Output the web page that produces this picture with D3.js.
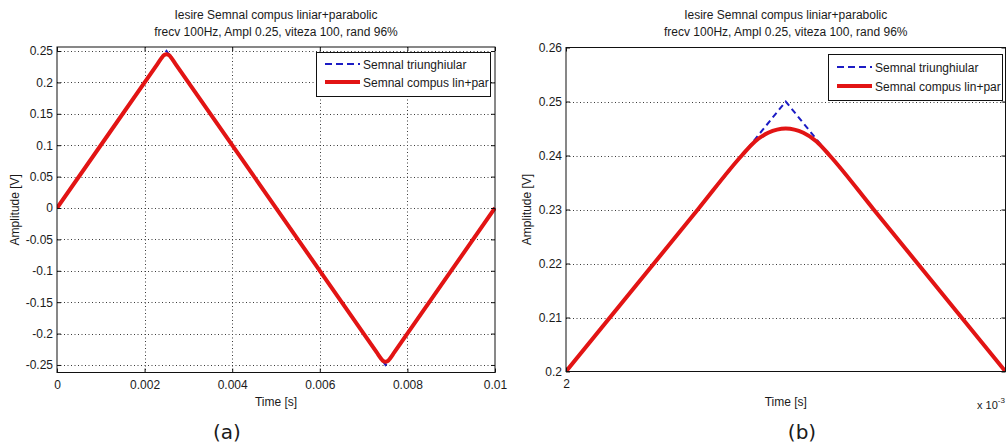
<!DOCTYPE html>
<html><head><meta charset="utf-8">
<script src="https://cdn.jsdelivr.net/npm/d3@7"></script>
<style>
html,body{margin:0;padding:0;background:#fff;}
svg{display:block;}
</style></head><body>
<svg id="fig" width="1006" height="446"></svg>
<script>
// Titles and labels
const titleLines = ["Iesire Semnal compus liniar+parabolic", "frecv 100Hz, Ampl 0.25, viteza 100, rand 96%"];
const legendLabels = ["Semnal triunghiular", "Semnal compus lin+par"];
const xLabel = "Time [s]";
const yLabel = "Amplitude [V]";
const panelTags = ["(a)", "(b)"];

// Triangular reference signal (vertices)
const timeTri = [0, 0.0025, 0.0075, 0.01];
const ampTri = [0, 0.25, -0.25, 0];

// Composite linear + parabolic signal (rounded peaks)
const timeComp = [0, 0.0023, 0.0024, 0.00243, 0.00246, 0.0025, 0.00254, 0.00257, 0.0026, 0.0027,
                  0.0073, 0.0074, 0.00743, 0.00746, 0.0075, 0.00754, 0.00757, 0.0076, 0.0077, 0.01];
const ampComp = [0, 0.23, 0.24, 0.2426, 0.2442, 0.245, 0.2442, 0.2426, 0.24, 0.23,
                 -0.23, -0.24, -0.2426, -0.2442, -0.245, -0.2442, -0.2426, -0.24, -0.23, 0];

// Ticks
const xTicksA = [0, 0.002, 0.004, 0.006, 0.008, 0.01];
const xTickLabelsA = ["0", "0.002", "0.004", "0.006", "0.008", "0.01"];
const yTicksA = [-0.25, -0.2, -0.15, -0.1, -0.05, 0, 0.05, 0.1, 0.15, 0.2, 0.25];
const yTickLabelsA = ["-0.25", "-0.2", "-0.15", "-0.1", "-0.05", "0", "0.05", "0.1", "0.15", "0.2", "0.25"];
const xTicksB = [0.002];
const xTickLabelsB = ["2"];
const yTicksB = [0.2, 0.21, 0.22, 0.23, 0.24, 0.25, 0.26];
const yTickLabelsB = ["0.2", "0.21", "0.22", "0.23", "0.24", "0.25", "0.26"];

const FONT = "'Liberation Sans',Arial,Helvetica,sans-serif";
const TAG_FONT = "'DejaVu Sans',Verdana,sans-serif";
const INK = "#1a1a1a";

const svg = d3.select("#fig");
svg.append("rect").attr("width", 1006).attr("height", 446).attr("fill", "#fff");

const panels = [
  { id: "a", left: 57, right: 495, top: 47, bottom: 372.5,
    xDomain: [0, 0.01], yDomain: [-0.262, 0.2564],
    xTicks: xTicksA, xTickLabels: xTickLabelsA, yTicks: yTicksA, yTickLabels: yTickLabelsA,
    legend: { right: 490, top: 52, height: 44, rows: [64, 82] },
    yLabelX: 15, tagX: 227 },
  { id: "b", left: 566, right: 1005.5, top: 47.5, bottom: 371.5,
    xDomain: [0.002, 0.003], yDomain: [0.2, 0.26],
    xTicks: xTicksB, xTickLabels: xTickLabelsB, yTicks: yTicksB, yTickLabels: yTickLabelsB,
    legend: { right: 1002, top: 54, height: 46, rows: [67, 86] },
    yLabelX: 527, tagX: 802, exponent: true }
];

const RED = "#e21414", BLUE = "#1c1cc4";

function label(sel, size, family) {
  return sel.style("font-family", family || FONT).style("font-size", size + "px").style("fill", INK);
}

panels.forEach((p, pi) => {
  const x = d3.scaleLinear().domain(p.xDomain).range([p.left, p.right]);
  const y = d3.scaleLinear().domain(p.yDomain).range([p.bottom, p.top]);
  const w = p.right - p.left, h = p.bottom - p.top;
  const g = svg.append("g");

  // dotted grid
  const grid = g.append("g").attr("stroke", "#3a3a3a").attr("stroke-width", 1).attr("stroke-dasharray", "1,2.5");
  p.yTicks.forEach(v => {
    const yy = Math.round(y(v)) + 0.5;
    if (yy > p.top + 1 && yy < p.bottom - 1)
      grid.append("line").attr("x1", p.left).attr("x2", p.right).attr("y1", yy).attr("y2", yy);
  });
  p.xTicks.forEach(v => {
    const xx = Math.round(x(v)) + 0.5;
    if (xx > p.left + 1 && xx < p.right - 1)
      grid.append("line").attr("x1", xx).attr("x2", xx).attr("y1", p.top).attr("y2", p.bottom);
  });

  // signals, clipped to the axes box
  const clipId = "clip-" + p.id;
  svg.append("clipPath").attr("id", clipId).append("rect")
    .attr("x", p.left).attr("y", p.top - 3).attr("width", w + 1).attr("height", h + 3);
  const plot = g.append("g").attr("clip-path", `url(#${clipId})`);

  const triLine = d3.line().x((d, i) => x(timeTri[i])).y((d, i) => y(ampTri[i]));
  const compLine = d3.line().x((d, i) => x(timeComp[i])).y((d, i) => y(ampComp[i])).curve(d3.curveMonotoneX);

  plot.append("path").attr("d", triLine(ampTri)).attr("fill", "none")
    .attr("stroke", BLUE).attr("stroke-width", 2).attr("stroke-dasharray", "6,4");
  plot.append("path").attr("d", compLine(ampComp)).attr("fill", "none")
    .attr("stroke", RED).attr("stroke-width", 4).attr("stroke-linejoin", "round");

  // axes with inward ticks
  const fmtX = (d, i) => p.xTickLabels[i];
  const fmtY = (d, i) => p.yTickLabels[i];
  const axX = g.append("g").attr("transform", `translate(0,${p.bottom})`)
    .call(d3.axisBottom(x).tickValues(p.xTicks).tickFormat(fmtX).tickSize(-4).tickPadding(8));
  const axXt = g.append("g").attr("transform", `translate(0,${p.top})`)
    .call(d3.axisTop(x).tickValues(p.xTicks).tickFormat("").tickSize(-4));
  const axY = g.append("g").attr("transform", `translate(${p.left},0)`)
    .call(d3.axisLeft(y).tickValues(p.yTicks).tickFormat(fmtY).tickSize(-4).tickPadding(4));
  const axYr = g.append("g").attr("transform", `translate(${p.right},0)`)
    .call(d3.axisRight(y).tickValues(p.yTicks).tickFormat("").tickSize(-4));
  [axX, axXt, axY, axYr].forEach(a => {
    a.select(".domain").remove();
    a.selectAll(".tick line").attr("stroke", "#111");
    label(a.selectAll("text"), 12);
  });

  // axes box
  g.append("rect").attr("x", p.left).attr("y", p.top).attr("width", w).attr("height", h)
    .attr("fill", "none").attr("stroke", "#111").attr("stroke-width", 1);

  // title
  const cx = (p.left + p.right) / 2;
  titleLines.forEach((t, i) => {
    label(g.append("text").attr("x", cx).attr("y", 19 + i * 16.5).attr("text-anchor", "middle"), 12).text(t);
  });

  // axis labels
  label(g.append("text").attr("x", cx).attr("y", 406).attr("text-anchor", "middle"), 12).text(xLabel);
  label(g.append("text").attr("transform", `translate(${p.yLabelX + 4},${(p.top + p.bottom) / 2}) rotate(-90)`)
    .attr("text-anchor", "middle"), 12).text(yLabel);

  if (p.exponent) {
    const ex = label(g.append("text").attr("x", 977).attr("y", 409), 11);
    ex.append("tspan").text("x 10");
    ex.append("tspan").attr("dy", -6).style("font-size", "8px").text("-3");
  }

  // panel tag
  label(svg.append("text").attr("x", p.tagX).attr("y", 439).attr("text-anchor", "middle"), 20, TAG_FONT)
    .text(panelTags[pi]);

  // legend
  const L = p.legend;
  const lx = L.right - 174;
  const lg = g.append("g");
  lg.append("rect").attr("x", lx + 0.5).attr("y", L.top + 0.5).attr("width", L.right - lx).attr("height", L.height)
    .attr("fill", "#fff").attr("stroke", "#111").attr("stroke-width", 1);
  const styles = [
    { stroke: BLUE, width: 2, dash: "7,4" },
    { stroke: RED, width: 4, dash: null }
  ];
  legendLabels.forEach((lab, i) => {
    const ry = L.rows[i];
    lg.append("line").attr("x1", lx + 9).attr("x2", lx + 44).attr("y1", ry).attr("y2", ry)
      .attr("stroke", styles[i].stroke).attr("stroke-width", styles[i].width)
      .attr("stroke-dasharray", styles[i].dash);
    label(lg.append("text").attr("x", lx + 47).attr("y", ry + 4.5), 12).text(lab);
  });
});
</script>
</body></html>
